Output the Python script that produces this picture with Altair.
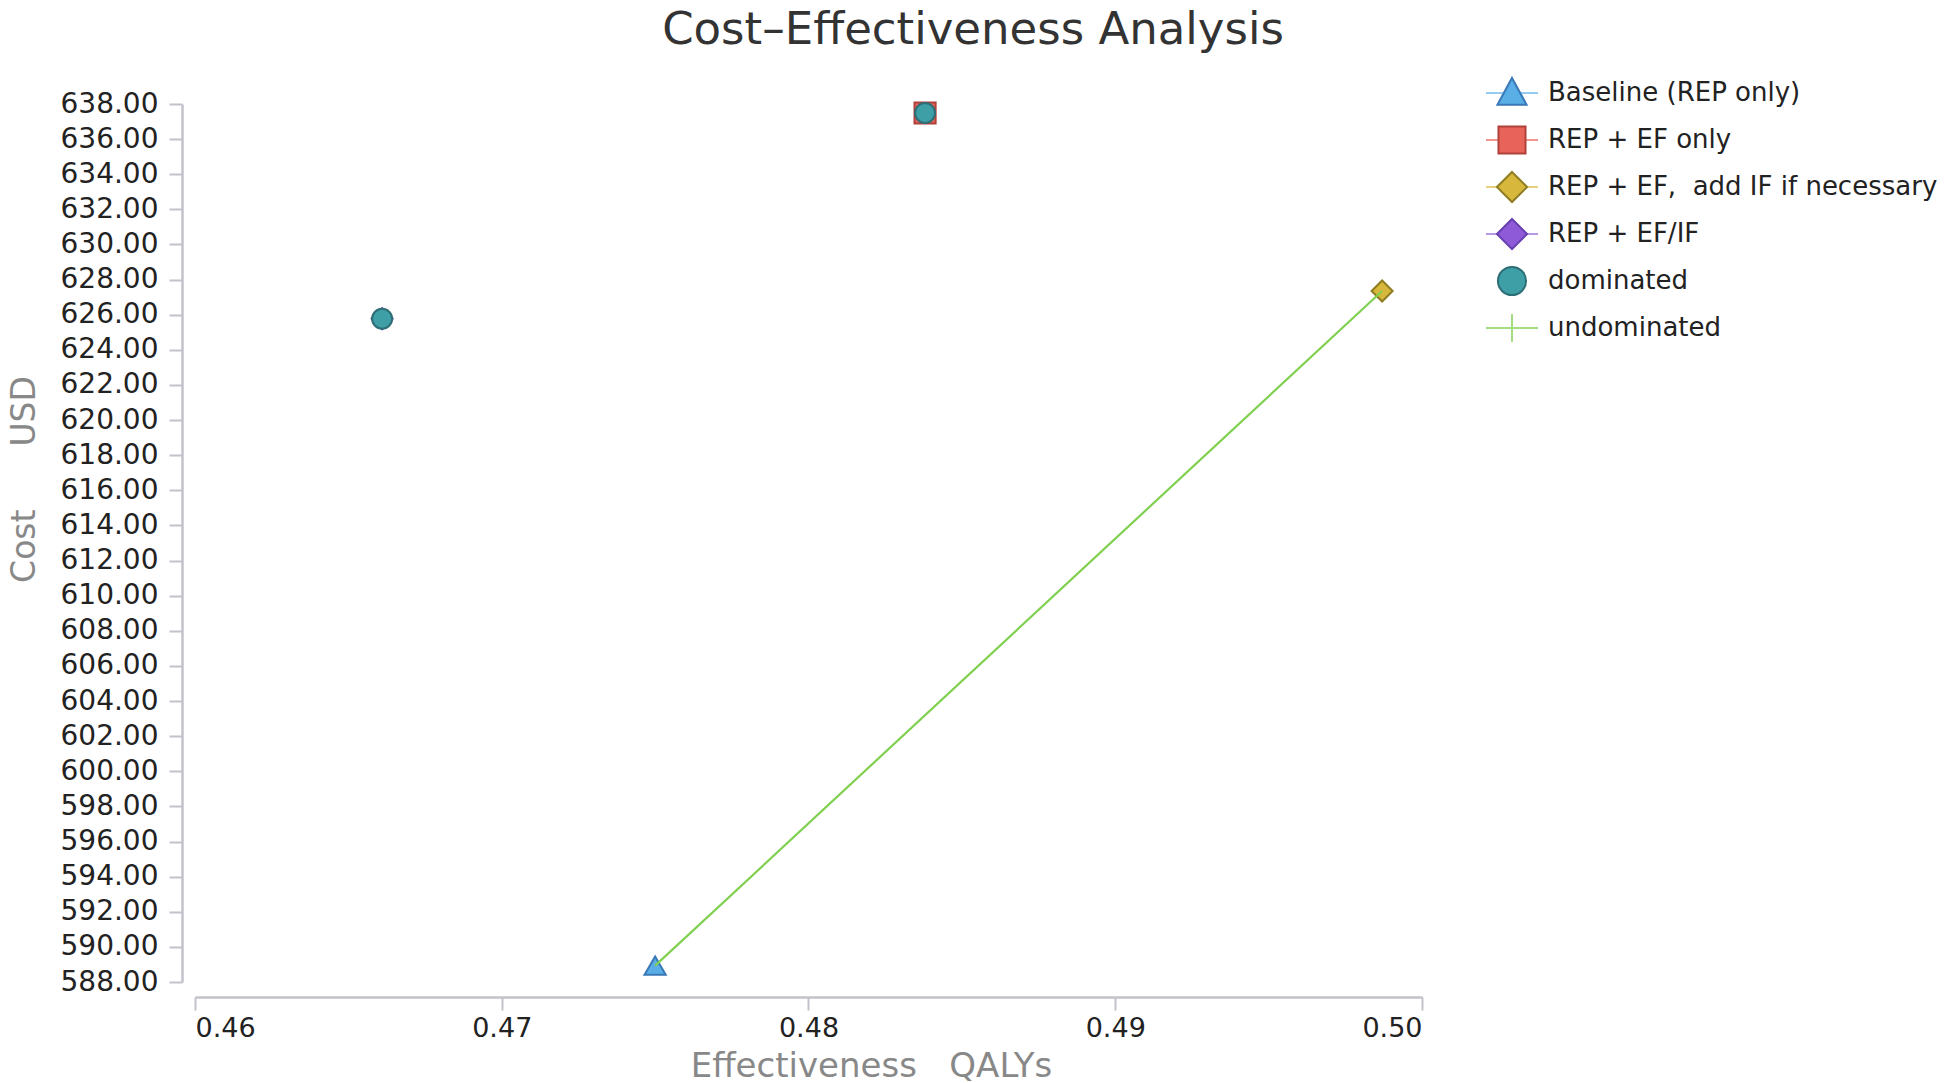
import altair as alt
import pandas as pd

# ---- data ----
strategies = ["Baseline (REP only)", "REP + EF only",
              "REP + EF,\u00a0\u00a0add IF if necessary", "REP + EF/IF"]
strategy_effect = [0.4750, 0.4838, 0.4987, 0.4661]
strategy_cost = [588.93, 637.49, 627.35, 625.77]

dominated_effect = [0.4661, 0.4838]
dominated_cost = [625.77, 637.49]

undominated_effect = [0.4750, 0.4987]
undominated_cost = [588.93, 627.35]

legend_items = strategies + ["dominated", "undominated"]

x_ticks = [0.46, 0.47, 0.48, 0.49, 0.50]
y_ticks = [588, 590, 592, 594, 596, 598, 600, 602, 604, 606, 608, 610, 612,
           614, 616, 618, 620, 622, 624, 626, 628, 630, 632, 634, 636, 638]

# ---- styles ----
FONT = "DejaVu Sans"
marker_shapes = ["triangle-up", "square", "diamond", "diamond"]
marker_sizes = [450, 441, 380, 560]
marker_fill = ["#5aaee6", "#e8645b", "#d8b83c", "#8e5ad8"]
marker_stroke = ["#3a78b8", "#b0413b", "#8f7d22", "#6840b0"]

# invisible move-to points give every legend symbol the same height
PAD = "M0,-0.58M0,0.58"
leg_line_paths = [PAD + "M-1,0H1"] * 4 + [PAD, PAD + "M-1,0H1M0,-0.54V0.54"]
leg_line_colors = ["#6bb7ea", "#ee6b62", "#dcbf45", "#9a72e0", "transparent", "#80d050"]
circle_path = "M0.54,0A0.54,0.54,0,1,1,-0.54,0A0.54,0.54,0,1,1,0.54,0Z"
leg_marker_paths = [PAD + "M0,-0.58L0.56,0.45L-0.56,0.45Z",
                    PAD + "M-0.52,-0.52H0.52V0.52H-0.52Z",
                    PAD + "M0,-0.58L0.58,0L0,0.58L-0.58,0Z",
                    PAD + "M0,-0.58L0.58,0L0,0.58L-0.58,0Z",
                    PAD + circle_path,
                    PAD]
leg_marker_fill = marker_fill + ["#3f9fa6", "transparent"]
leg_marker_stroke = marker_stroke + ["#2e6e76", "transparent"]

AXIS_GREY = "#c2c2ca"

strat_df = pd.DataFrame({"strategy": strategies, "effect": strategy_effect,
                         "cost": strategy_cost}).iloc[::-1]
dom_df = pd.DataFrame({"effect": dominated_effect, "cost": dominated_cost})
undom_df = pd.DataFrame({"effect": undominated_effect, "cost": undominated_cost})
leg_df = pd.DataFrame({"item": legend_items, "item2": legend_items})

x_enc = alt.X("effect:Q",
              scale=alt.Scale(domain=[0.46, 0.50], nice=False, zero=False),
              axis=alt.Axis(values=x_ticks, format=".2f", offset=15,
                            title="Effectiveness\u00a0\u00a0\u00a0QALYs",
                            titleFont=FONT, titleFontSize=34, titleFontWeight="normal",
                            titleColor="#888888", titleX=676, titleY=79,
                            titleBaseline="alphabetic",
                            labelFont=FONT, labelFontSize=27, labelColor="#222222",
                            labelPadding=5, domainColor=AXIS_GREY, domainWidth=2.5,
                            tickColor=AXIS_GREY, tickWidth=2, tickSize=13, grid=False))
y_enc = alt.Y("cost:Q",
              scale=alt.Scale(domain=[588, 638], nice=False, zero=False),
              axis=alt.Axis(values=y_ticks, format=".2f", offset=13,
                            title="Cost\u00a0\u00a0\u00a0\u00a0\u00a0\u00a0USD",
                            titleFont=FONT, titleFontSize=33, titleFontWeight="normal",
                            titleColor="#888888", titleX=-141, titleY=375,
                            labelFont=FONT, labelFontSize=28, labelColor="#222222",
                            labelPadding=11, domainColor=AXIS_GREY, domainWidth=2.5,
                            tickColor=AXIS_GREY, tickWidth=2, tickSize=13, grid=False))

legend_common = dict(orient="none", legendX=1290, legendY=-38, title=None,
                     symbolSize=2704, labelFont=FONT, labelFontSize=26,
                     labelColor="#222222", labelOffset=9, labelLimit=600,
                     rowPadding=0, symbolStrokeWidth=2)

# legend carrier: lines
leg_lines = alt.Chart(leg_df).mark_point(filled=False, strokeWidth=2).encode(
    shape=alt.Shape("item:N", scale=alt.Scale(domain=legend_items, range=leg_line_paths),
                    legend=alt.Legend(zindex=0, **legend_common)),
    stroke=alt.Stroke("item:N", scale=alt.Scale(domain=legend_items, range=leg_line_colors),
                      legend=alt.Legend(zindex=0, **legend_common)),
).transform_filter("false")

# legend carrier: markers
leg_markers = alt.Chart(leg_df).mark_point(filled=True, strokeWidth=2, opacity=1).encode(
    shape=alt.Shape("item2:N", scale=alt.Scale(domain=legend_items, range=leg_marker_paths),
                    legend=alt.Legend(zindex=1, labelOpacity=0, **legend_common)),
    fill=alt.Fill("item2:N", scale=alt.Scale(domain=legend_items, range=leg_marker_fill),
                  legend=alt.Legend(zindex=1, labelOpacity=0, **legend_common)),
    stroke=alt.Stroke("item2:N", scale=alt.Scale(domain=legend_items, range=leg_marker_stroke),
                      legend=alt.Legend(zindex=1, labelOpacity=0, **legend_common)),
).transform_filter("false")

points = alt.Chart(strat_df).mark_point(filled=True, strokeWidth=2, opacity=1).encode(
    x=x_enc, y=y_enc,
    shape=alt.Shape("strategy:N", scale=alt.Scale(domain=strategies, range=marker_shapes),
                    legend=None),
    fill=alt.Fill("strategy:N", scale=alt.Scale(domain=strategies, range=marker_fill),
                  legend=None),
    stroke=alt.Stroke("strategy:N", scale=alt.Scale(domain=strategies, range=marker_stroke),
                      legend=None),
    size=alt.Size("strategy:N", scale=alt.Scale(domain=strategies, range=marker_sizes),
                  legend=None),
)

dominated = alt.Chart(dom_df).mark_point(
    filled=True, shape="circle", size=400, fill="#3f9fa6", stroke="#2e6e76",
    strokeWidth=2, opacity=1).encode(x=x_enc, y=y_enc)

undominated = alt.Chart(undom_df).mark_line(color="#80d050", strokeWidth=2.2).encode(
    x=x_enc, y=y_enc)

chart = alt.layer(leg_lines, leg_markers, points, dominated, undominated).resolve_scale(
    shape="independent", fill="independent", stroke="independent", size="independent"
).properties(
    width=1227, height=878,
    padding={"left": 0, "top": 0, "right": 0, "bottom": 0},
    title=alt.Title("Cost\u2013Effectiveness Analysis", font=FONT, fontSize=45,
                    fontWeight="normal", color="#333333", anchor="middle",
                    frame="bounds", offset=13),
).configure_view(stroke=None)

chart.save("out.html", embed_options={"renderer": "svg", "actions": False})
